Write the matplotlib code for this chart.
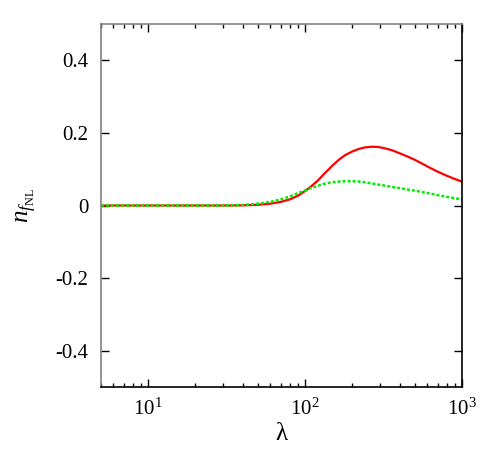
import matplotlib
matplotlib.use("Agg")
import matplotlib.pyplot as plt
from matplotlib.ticker import FixedLocator, LogLocator, NullFormatter, NullLocator

lam = [5, 10, 20, 30, 40, 50, 60, 70, 80, 90, 100, 110, 120, 130, 140, 150,
       165, 180, 200, 220, 240, 265, 290, 320, 360, 400, 450, 500, 560, 630,
       710, 800, 900, 1000]
red = [0, 0, 0, 0, 0.0005, 0.002, 0.005, 0.010, 0.017, 0.027, 0.040, 0.054,
       0.068, 0.084, 0.098, 0.111, 0.127, 0.139, 0.149, 0.156, 0.160, 0.162,
       0.1615, 0.158, 0.152, 0.144, 0.135, 0.126, 0.115, 0.103, 0.092, 0.082,
       0.073, 0.066]
green = [0, 0, 0, 0, 0.0015, 0.005, 0.010, 0.017, 0.025, 0.034, 0.042, 0.049,
         0.054, 0.059, 0.062, 0.064, 0.066, 0.067, 0.067, 0.066, 0.064, 0.061,
         0.058, 0.055, 0.051, 0.048, 0.044, 0.041, 0.037, 0.033, 0.028, 0.024,
         0.020, 0.017]
yticks = [-0.4, -0.2, 0, 0.2, 0.4]
ylabels = ["-0.4", "-0.2", "0", "0.2", "0.4"]

plt.rcParams['font.family'] = ['Liberation Serif', 'DejaVu Serif']
plt.rcParams['mathtext.fontset'] = 'custom'
plt.rcParams['mathtext.rm'] = 'Liberation Serif'
plt.rcParams['mathtext.it'] = 'Liberation Serif:italic'

fig = plt.figure(figsize=(5, 4.54), dpi=100)
ax = fig.add_axes([0.202, 0.1476, 0.722, 0.7994])
ax.plot(lam, red, color='#ff0000', lw=1.6)
ax.plot(lam, green, color='#00ee00', lw=1.8, linestyle=(0, (1.2, 0.8)))
ax.set_xscale('log')
ax.set_xlim(5, 1000)
ax.set_ylim(-0.5, 0.5)
ax.yaxis.set_major_locator(FixedLocator(yticks))
ax.set_yticklabels(ylabels)
ax.yaxis.set_minor_locator(NullLocator())
ax.xaxis.set_major_locator(LogLocator(base=10))
ax.xaxis.set_minor_locator(LogLocator(base=10, subs=range(2, 10)))
ax.xaxis.set_minor_formatter(NullFormatter())
ax.tick_params(which='both', direction='in', top=True, right=True, labelsize=15, colors='black')
ax.tick_params(which='major', length=6, width=1)
ax.tick_params(which='minor', length=3, width=1)
ax.tick_params(axis='x', pad=8)
ax.tick_params(axis='y', pad=9)
for s in ['left', 'top']:
    ax.spines[s].set_color('#808080')
for s in ax.spines.values():
    s.set_linewidth(1.2)
ax.set_xlabel('λ', fontsize=18, labelpad=3)
ax.set_ylabel(r'$n_{f_{\rm NL}}$', fontsize=18, labelpad=12)
fig.savefig('out.png', dpi=100)
